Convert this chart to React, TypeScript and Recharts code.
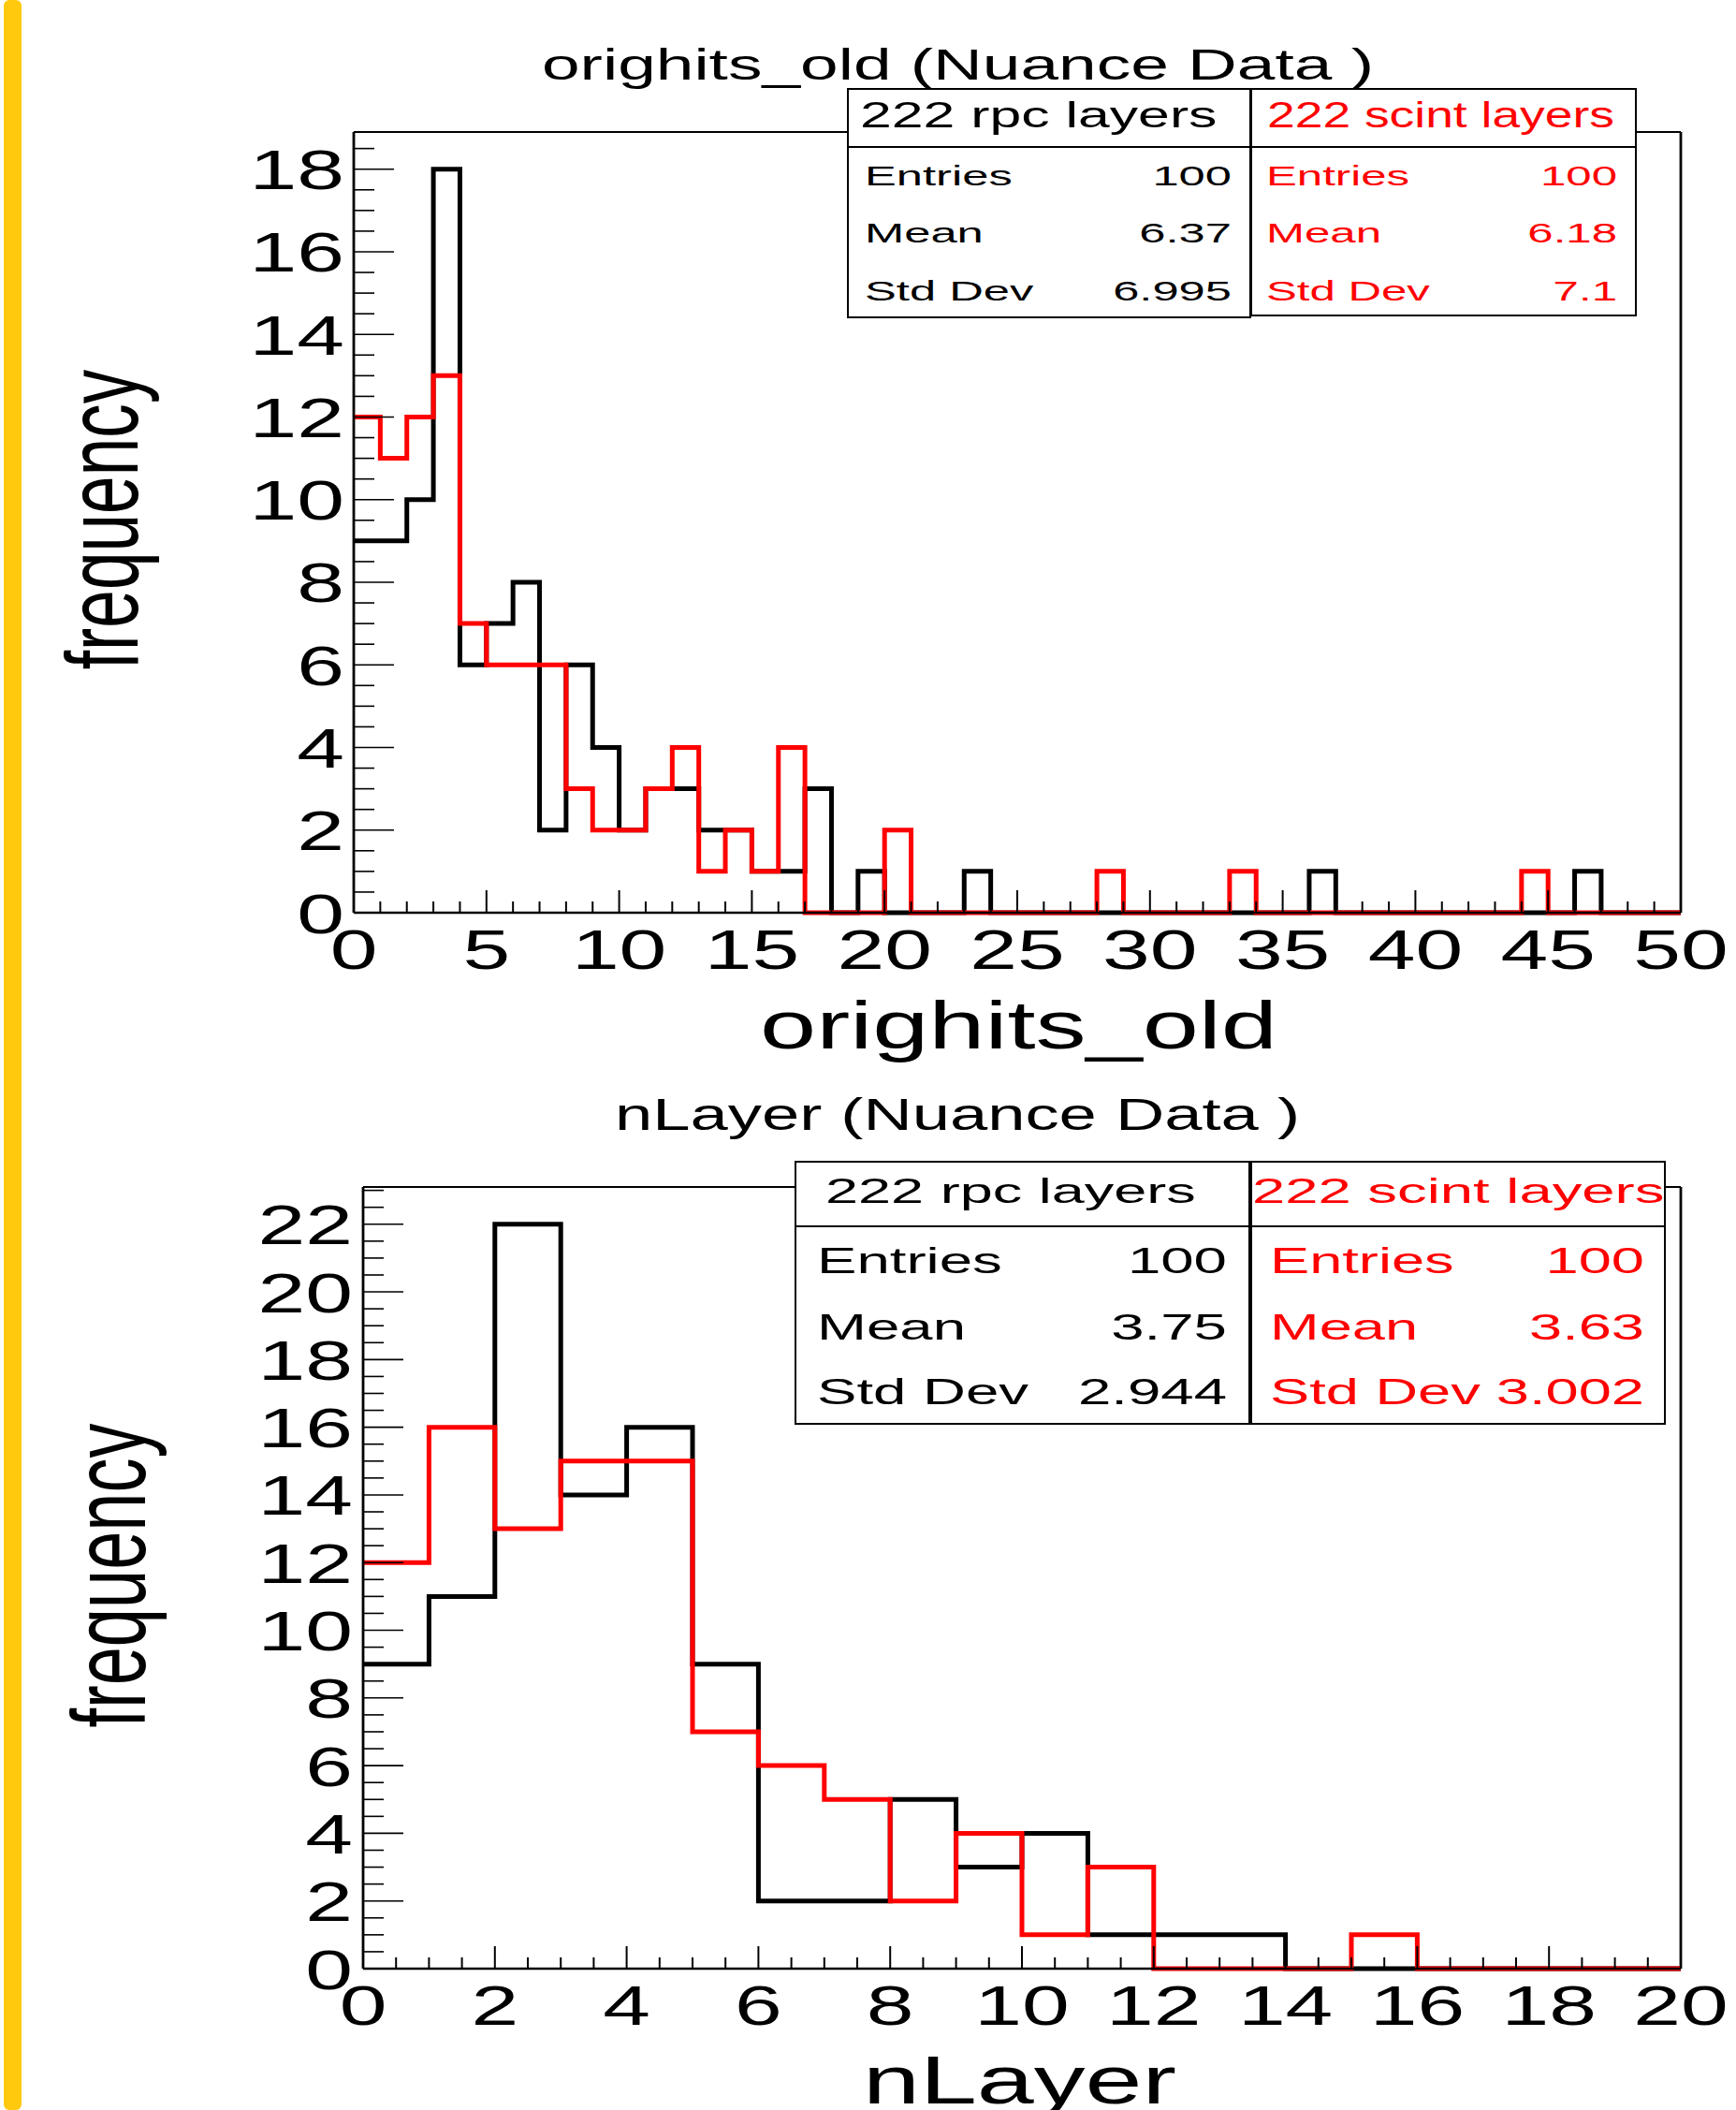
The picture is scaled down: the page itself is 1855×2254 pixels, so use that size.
import React from 'react';
import { LineChart, Line, XAxis, YAxis, ReferenceLine } from 'recharts';

const FONT = '"Liberation Sans", Arial, Helvetica, sans-serif';
const RED = '#ff0000';

// orighits_old: 50 bins of width 1 starting at 0
const hitsRpc = [
  9, 9, 10, 18, 6, 7, 8, 2, 6, 4,
  2, 3, 3, 2, 2, 1, 1, 3, 0, 1,
  0, 0, 0, 1, 0, 0, 0, 0, 0, 0,
  0, 0, 0, 0, 0, 0, 1, 0, 0, 0,
  0, 0, 0, 0, 0, 0, 1, 0, 0, 0,
];
const hitsScint = [
  12, 11, 12, 13, 7, 6, 6, 6, 3, 2,
  2, 3, 4, 1, 2, 1, 4, 0, 0, 0,
  2, 0, 0, 0, 0, 0, 0, 0, 1, 0,
  0, 0, 0, 1, 0, 0, 0, 0, 0, 0,
  0, 0, 0, 0, 1, 0, 0, 0, 0, 0,
];

// nLayer: 20 bins of width 1 starting at 0
const layerRpc = [9, 11, 22, 14, 16, 9, 2, 2, 5, 3, 4, 1, 1, 1, 0, 0, 0, 0, 0, 0];
const layerScint = [12, 16, 13, 15, 15, 7, 6, 5, 2, 4, 1, 3, 0, 0, 0, 1, 0, 0, 0, 0];

const hitsXLabels = [0, 5, 10, 15, 20, 25, 30, 35, 40, 45, 50];
const hitsYLabels = [0, 2, 4, 6, 8, 10, 12, 14, 16, 18];
const layerXLabels = [0, 2, 4, 6, 8, 10, 12, 14, 16, 18, 20];
const layerYLabels = [0, 2, 4, 6, 8, 10, 12, 14, 16, 18, 20, 22];

const statNames = ['Entries', 'Mean', 'Std Dev'];
const hitsRpcStats = ['100', '6.37', '6.995'];
const hitsScintStats = ['100', '6.18', '7.1'];
const layerRpcStats = ['100', '3.75', '2.944'];
const layerScintStats = ['100', '3.63', '3.002'];

const rpcTitle = '222 rpc layers';
const scintTitle = '222 scint layers';

// histogram outline: one point per bin edge, last edge repeats last bin
const stepTable = (rpc: number[], scint: number[]) => {
  const rows = rpc.map((v, i) => ({ x: i, rpc: v, scint: scint[i] }));
  rows.push({ x: rpc.length, rpc: rpc[rpc.length - 1], scint: scint[scint.length - 1] });
  return rows;
};

const buildTicks = (max: number, step: number) => {
  const out: number[] = [];
  for (let k = 0; k * step <= max + 1e-9; k++) out.push(Math.round(k * step * 100) / 100);
  return out;
};

const TICK_SX = 1.52;

const XTick = (props: any) => {
  const { x, y, payload, labels } = props;
  const v = payload.value;
  const major = labels.includes(v);
  return (
    <g>
      <line x1={x} y1={y} x2={x} y2={y - (major ? 24 : 12)} stroke="#000" strokeWidth={2} />
      {major && (
        <text
          transform={`translate(${x},${y + 60}) scale(${TICK_SX},1)`}
          textAnchor="middle"
          fontSize={60}
          fontFamily={FONT}
          fill="#000"
        >
          {v}
        </text>
      )}
    </g>
  );
};

const YTick = (props: any) => {
  const { x, y, payload, labels, gap } = props;
  const v = payload.value;
  const major = labels.includes(v);
  return (
    <g>
      <line x1={x} y1={y} x2={x + (major ? 43 : 22)} y2={y} stroke="#000" strokeWidth={1.6} />
      {major && (
        <text
          transform={`translate(${x - gap},${y + 21.5}) scale(${TICK_SX},1)`}
          textAnchor="end"
          fontSize={60}
          fontFamily={FONT}
          fill="#000"
        >
          {v}
        </text>
      )}
    </g>
  );
};

const Panel = (p: any) => {
  const xTicks = buildTicks(p.xMax, p.xStep);
  const yTicks = buildTicks(p.yMax, p.yStep);
  return (
    <div style={{ position: 'absolute', left: 0, top: p.top }}>
      <LineChart
        width={1855}
        height={p.height}
        data={p.data}
        margin={{
          top: p.plotTop - p.top,
          bottom: p.top + p.height - p.plotBottom - 1,
          left: p.plotLeft - 1,
          right: 1855 - p.plotRight,
        }}
      >
        <XAxis
          type="number"
          dataKey="x"
          domain={[0, p.xMax]}
          ticks={xTicks}
          interval={0}
          height={1}
          tickSize={0}
          tickMargin={0}
          tickLine={false}
          axisLine={{ stroke: '#000', strokeWidth: 2.6 }}
          tick={(t: any) => <XTick {...t} labels={p.xLabels} />}
        />
        <YAxis
          type="number"
          domain={[0, p.yMax]}
          ticks={yTicks}
          interval={0}
          width={1}
          tickSize={0}
          tickMargin={0}
          tickLine={false}
          axisLine={{ stroke: '#000', strokeWidth: 2.8 }}
          tick={(t: any) => <YTick {...t} labels={p.yLabels} gap={p.yGap} />}
        />
        <ReferenceLine y={p.yMax} stroke="#000" strokeWidth={2.2} ifOverflow="visible" />
        <ReferenceLine x={p.xMax} stroke="#000" strokeWidth={2.8} ifOverflow="visible" />
        <Line
          type="stepAfter"
          dataKey="rpc"
          stroke="#000"
          strokeWidth={5}
          dot={false}
          activeDot={false}
          isAnimationActive={false}
        />
        <Line
          type="stepAfter"
          dataKey="scint"
          stroke={RED}
          strokeWidth={5}
          dot={false}
          activeDot={false}
          isAnimationActive={false}
        />
      </LineChart>
    </div>
  );
};

const Txt = ({ x, y, sx, size, anchor = 'start', color = '#000', children }: any) => (
  <text
    transform={`translate(${x},${y}) scale(${sx},1)`}
    textAnchor={anchor}
    fontSize={size}
    fontFamily={FONT}
    fill={color}
  >
    {children}
  </text>
);

const StatsBox = (b: any) => (
  <g>
    <rect x={b.x0} y={b.y0} width={b.x1 - b.x0} height={b.y1 - b.y0} fill="#fff" stroke="#000" strokeWidth={2} />
    <line x1={b.x0} y1={b.sep} x2={b.x1} y2={b.sep} stroke="#000" strokeWidth={2} />
    <Txt x={b.headX} y={b.headY} sx={b.headSx} size={b.headSize} color={b.color}>
      {b.title}
    </Txt>
    {statNames.map((name, i) => (
      <g key={name}>
        <Txt x={b.labelX} y={b.rows[i]} sx={b.sx} size={b.size} color={b.color}>
          {name}
        </Txt>
        <Txt x={b.valueX} y={b.rows[i]} sx={b.sx} size={b.size} anchor="end" color={b.color}>
          {b.values[i]}
        </Txt>
      </g>
    ))}
  </g>
);

export default function App() {
  const hitsData = stepTable(hitsRpc, hitsScint);
  const layerData = stepTable(layerRpc, layerScint);
  const topRows = [198, 259, 321];
  const botRows = [1360, 1431, 1500];

  return (
    <div
      style={{
        position: 'absolute',
        left: 0,
        top: 0,
        width: 1855,
        height: 2254,
        background: '#fff',
        overflow: 'hidden',
      }}
    >
      <Panel
        top={0}
        height={1150}
        plotTop={141}
        plotBottom={975}
        plotLeft={378}
        plotRight={1796}
        xMax={50}
        yMax={18.9}
        xStep={1}
        yStep={0.5}
        xLabels={hitsXLabels}
        yLabels={hitsYLabels}
        yGap={10}
        data={hitsData}
      />
      <Panel
        top={1150}
        height={1104}
        plotTop={1268}
        plotBottom={2103}
        plotLeft={388}
        plotRight={1796}
        xMax={20}
        yMax={23.1}
        xStep={0.5}
        yStep={0.5}
        xLabels={layerXLabels}
        yLabels={layerYLabels}
        yGap={11}
        data={layerData}
      />
      <svg
        width={1855}
        height={2254}
        style={{ position: 'absolute', left: 0, top: 0, pointerEvents: 'none' }}
      >
        <rect x={4} y={0} width={19} height={2254} rx={6} fill="#ffc90e" />

        <text x={579} y={85} textLength={889} lengthAdjust="spacingAndGlyphs" fontSize={46} fontFamily={FONT}>
          orighits_old (Nuance Data )
        </text>
        <text x={812} y={1120} textLength={553} lengthAdjust="spacingAndGlyphs" fontSize={72} fontFamily={FONT}>
          orighits_old
        </text>
        <text transform="translate(147,555) scale(1.5,1) rotate(-90)" textAnchor="middle" fontSize={73} fontFamily={FONT}>
          frequency
        </text>

        <text x={657} y={1207} textLength={732} lengthAdjust="spacingAndGlyphs" fontSize={48} fontFamily={FONT}>
          nLayer (Nuance Data )
        </text>
        <text x={922} y={2247} textLength={335} lengthAdjust="spacingAndGlyphs" fontSize={72} fontFamily={FONT}>
          nLayer
        </text>
        <text transform="translate(155,1683) scale(1.5,1) rotate(-90)" textAnchor="middle" fontSize={74} fontFamily={FONT}>
          frequency
        </text>

        <StatsBox
          x0={906} x1={1336} y0={95} y1={339} sep={157}
          title={rpcTitle} headX={919} headY={136} headSx={1.57} headSize={38.7}
          labelX={924} valueX={1316} rows={topRows} sx={1.69} size={30}
          values={hitsRpcStats} color="#000"
        />
        <StatsBox
          x0={1337} x1={1748} y0={95} y1={337} sep={157}
          title={scintTitle} headX={1354} headY={136} headSx={1.38} headSize={38.7}
          labelX={1353} valueX={1728} rows={topRows} sx={1.64} size={30}
          values={hitsScintStats} color={RED}
        />
        <StatsBox
          x0={850} x1={1335} y0={1241} y1={1521} sep={1310}
          title={rpcTitle} headX={882} headY={1285} headSx={1.69} headSize={37.3}
          labelX={873} valueX={1311} rows={botRows} sx={1.61} size={39.5}
          values={layerRpcStats} color="#000"
        />
        <StatsBox
          x0={1337} x1={1779} y0={1241} y1={1521} sep={1310}
          title={scintTitle} headX={1338} headY={1285} headSx={1.7} headSize={37.3}
          labelX={1357} valueX={1757} rows={botRows} sx={1.6} size={39.5}
          values={layerScintStats} color={RED}
        />
      </svg>
    </div>
  );
}
